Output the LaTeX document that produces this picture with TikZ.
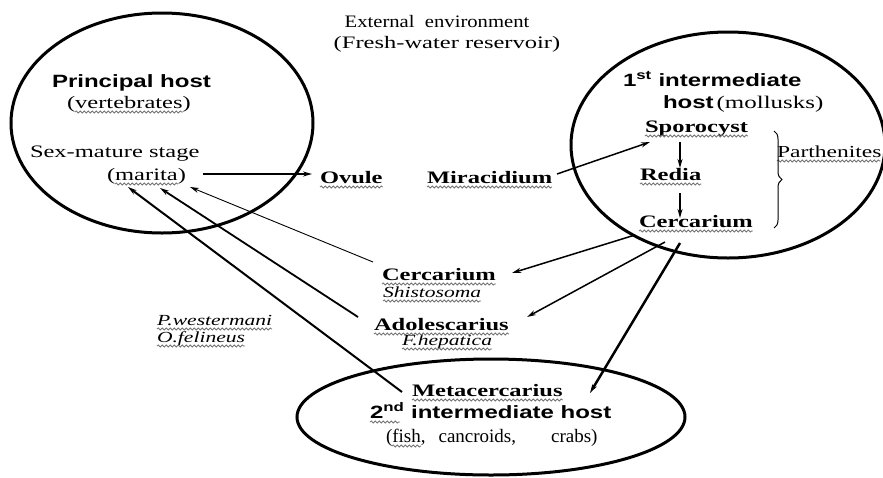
\documentclass[tikz,border=0pt]{standalone}
\usepackage{fontspec}
\setmainfont{Liberation Serif}[FakeStretch=1.4]
\setsansfont{Liberation Sans}[FakeStretch=1.35]
\newfontfamily\extfont{Liberation Serif}[FakeStretch=1.18]
\newfontfamily\plainfont{Liberation Serif}
\usetikzlibrary{shapes.geometric,arrows.meta,decorations.pathreplacing,decorations.pathmorphing}
\tikzset{
  lbl/.style={anchor=base west, inner sep=0pt, outer sep=0pt},
  rs/.style={lbl, font=\fontsize{17.5}{20}\selectfont},
  bs/.style={lbl, font=\fontsize{17.5}{20}\selectfont\bfseries},
  hs/.style={lbl, font=\fontsize{17.8}{20}\selectfont\sffamily\bfseries},
  is/.style={lbl, font=\fontsize{15.4}{17}\selectfont\itshape},
  host/.style={draw, ellipse, line width=3pt, inner sep=0pt},
  arr/.style={-{Stealth[length=9pt,width=5pt]}, line width=1.5pt},
  wavel/.style={draw=black!55, line width=0.8pt, decorate, decoration={snake, amplitude=1.1pt, segment length=4pt}},
}
% wavy underline: node, left inset, right inset
\newcommand\wu[3]{\draw[wavel] ([shift={(#2,4)}]#1.base west) -- ([shift={(-#3,4)}]#1.base east);}
\begin{document}
\begin{tikzpicture}[x=1pt,y=-1pt]
\useasboundingbox (0,0) rectangle (883,477);
% hosts
\node[host, minimum width=302pt, minimum height=220pt] (phost) at (162,123) {};
\node[host, minimum width=314pt, minimum height=226pt] (ihost) at (728,145) {};
\node[host, minimum width=388pt, minimum height=116pt] (shost) at (491,417) {};
% texts
\node[rs, anchor=base] (ext) at (437,27) {\extfont External\ \ environment};
\node[rs, anchor=base] (fresh) at (447,48) {(Fresh-water reservoir)};
\node[hs] (principal) at (52,87) {Principal host};
\node[rs] (vert) at (67,108) {(vertebrates)};
\node[rs] (sexmature) at (30,157) {Sex-mature stage};
\node[rs] (marita) at (107,180) {(marita)};
\node[bs] (ovule) at (320,183) {Ovule};
\node[bs] (miracidium) at (427,183) {Miracidium};
\node[hs] (first) at (623,86) {1\textsuperscript{st} intermediate};
\node[hs] (hostm) at (663,108) {host\,{\rmfamily\mdseries(mollusks)}};
\node[bs] (sporocyst) at (645,132) {Sporocyst};
\node[bs] (redia) at (640,180) {Redia};
\node[bs] (cercA) at (639,227) {Cercarium};
\node[rs, font=\fontsize{16.8}{19}\selectfont] (parth) at (777,157) {Parthenites};
\node[bs] (cercB) at (382,280) {Cercarium};
\node[is] (shisto) at (383,297) {Shistosoma};
\node[bs] (adol) at (374,330) {Adolescarius};
\node[is] (fhep) at (402,345) {F.hepatica};
\node[is] (pwest) at (157,325) {P.westermani};
\node[is] (ofel) at (157,342) {O.felineus};
\node[bs] (meta) at (412,396) {Metacercarius};
\node[hs] (second) at (370,418) {2\textsuperscript{nd} intermediate host};
\node[lbl, font=\fontsize{19}{21}\selectfont\plainfont] (fish) at (386,442) {(fish,\hspace{13pt}cancroids,\hspace{35pt}crabs)};
% wavy underlines
\wu{vert}{8}{8}
\wu{marita}{8}{8}
\wu{ovule}{0}{0}
\wu{miracidium}{0}{0}
\wu{sporocyst}{0}{0}
\wu{redia}{0}{0}
\wu{cercA}{0}{0}
\wu{parth}{0}{1}
\wu{cercB}{0}{0}
\wu{shisto}{0}{0}
\wu{adol}{0}{0}
\wu{fhep}{0}{0}
\wu{pwest}{0}{0}
\wu{ofel}{0}{0}
\wu{meta}{0}{0}
\draw[wavel] ([shift={(0,4)}]second.base west) -- ([shift={(30,4)}]second.base west);
\draw[wavel] ([shift={(6,4)}]fish.base west) -- ([shift={(35,4)}]fish.base west);
% brace
\draw[line width=1pt, decorate, decoration={brace, amplitude=8pt}] (774,131) -- (774,228);
% connectors
\draw[arr, line width=1.6pt] ([shift={(96,-6)}]marita.base west) -- ([shift={(-8,-9)}]ovule.base west);
\draw[arr] ([shift={(130,-9)}]miracidium.base west) -- ([shift={(5,10)}]sporocyst.base west);
\draw[arr] ([shift={(35,10)}]sporocyst.base west) -- ([shift={(40,-12)}]redia.base west);
\draw[arr] ([shift={(40,13)}]redia.base west) -- ([shift={(41,-9)}]cercA.base west);
\draw[arr] ([shift={(-4,8)}]cercA.base west) -- ([shift={(130,-7)}]cercB.base west);
\draw[arr] ([shift={(26,15)}]cercA.base west) -- ([shift={(153,-13)}]adol.base west);
\draw[arr, line width=2.5pt] ([shift={(41,16)}]cercA.base west) -- ([shift={(178,-3)}]meta.base west);
\draw[arr, line width=0.9pt] ([shift={(-9,-18)}]cercB.base west) -- ([shift={(83,7)}]marita.base west);
\draw[arr, line width=1.8pt] ([shift={(-16,-13)}]adol.base west) -- ([shift={(53,8)}]marita.base west);
\draw[arr, line width=2pt] ([shift={(-10,-4)}]meta.base west) -- ([shift={(21,7)}]marita.base west);
\end{tikzpicture}
\end{document}
